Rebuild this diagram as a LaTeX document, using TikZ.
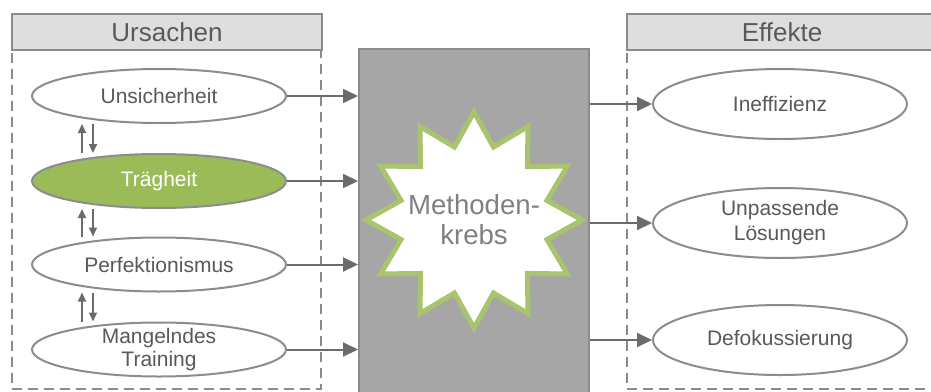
\documentclass[tikz,border=0pt]{standalone}
\usepackage{fontspec}
\setmainfont{Liberation Sans}
\usepackage{xcolor}
\usepackage{tikz}
\usetikzlibrary{positioning, arrows.meta, shapes.geometric}

\definecolor{txtgray}{HTML}{595959}
\definecolor{linegray}{HTML}{8C8C8C}
\definecolor{arrgray}{HTML}{6B6B6B}
\definecolor{headgray}{HTML}{DEDEDE}
\definecolor{boxgray}{HTML}{A6A6A6}
\definecolor{hotgreen}{HTML}{9BBB59}
\definecolor{burstgreen}{HTML}{A8C46E}

\begin{document}
\begin{tikzpicture}[
    x=0.5pt, y=-0.5pt,
    font=\fontsize{10.5}{12}\selectfont,
    cause/.style={
        ellipse, draw=linegray, line width=1pt, fill=white,
        minimum width=127pt, minimum height=27pt, inner sep=0pt,
    },
    effect/.style={cause, minimum height=35pt},
    hot/.style={cause, fill=hotgreen},
    ctext/.style={text=txtgray, align=center, inner sep=0pt},
    htext/.style={ctext, text=white},
    head/.style={
        draw=linegray, fill=headgray, line width=1pt,
        minimum width=155pt, minimum height=18pt, inner sep=0pt,
        text=txtgray, font=\fontsize{13}{15}\selectfont,
    },
    panel/.style={
        draw=linegray, line width=1pt, dash pattern=on 5pt off 3pt,
        minimum width=154.5pt, minimum height=169.5pt, inner sep=0pt,
    },
    core/.style={
        draw=linegray, fill=boxgray, line width=1pt,
        minimum width=115pt, minimum height=172pt, inner sep=0pt,
    },
    burst/.style={
        star, star points=12, star point ratio=1.43,
        draw=burstgreen, line width=2.5pt, fill=white,
        minimum size=108pt, inner sep=0pt,
    },
    arrow/.style={-{Triangle[length=7.5pt, width=7pt]}, draw=arrgray, line width=1pt},
    swap/.style={-{Triangle[length=4.5pt, width=4pt]}, draw=arrgray, line width=1pt},
]
\clip (0,0) rectangle (931,391);

% ── Dashed columns with their title bars ─────────────────────────────
\node[panel] (lpanel) at (166.5, 219.5) {};
\node[panel] (rpanel) at (781.5, 219.5) {};
\node[head] (lhead) at (167, 32) {Ursachen};
\node[head] (rhead) at (782, 32) {Effekte};

% ── Centre block ─────────────────────────────────────────────────────
\node[core] (core) at (474, 221) {};
\node[burst] (burst) at (474, 220) {};
\node[ctext, text=gray, font=\fontsize{13.8}{15}\selectfont] (krebs) at (burst.center)
    {Methoden-\\krebs};

% ── Causes ───────────────────────────────────────────────────────────
\node[cause, label={[ctext]center:Unsicherheit}] (unsich) at (159, 96) {};
\node[hot, label={[htext]center:Trägheit}] (trag) at (159, 181) {};
\node[cause, label={[ctext]center:Perfektionismus}] (perf) at (159, 264.5) {};
\node[cause, label={[ctext, font=\fontsize{10.5}{11.5}\selectfont]center:Mangelndes\\Training}] (mangel) at (159, 349.5) {};

% ── Effects ──────────────────────────────────────────────────────────
\node[effect, label={[ctext]center:Ineffizienz}] (ineff) at (780, 104) {};
\node[effect, label={[ctext, font=\fontsize{10.5}{12.5}\selectfont]center:Unpassende\\Lösungen}] (unpass) at (780, 223) {};
\node[effect, label={[ctext]center:Defokussierung}] (defok) at (780, 340) {};

% ── Edges ────────────────────────────────────────────────────────────
% causes feed the block
\foreach \c in {unsich, trag, perf, mangel}
    \draw[arrow] (\c.east) -- (\c.east -| core.west);

% block feeds the effects
\foreach \e in {ineff, unpass, defok}
    \draw[arrow] (core.east |- \e.west) -- (\e.west);

% causes reinforce each other
\foreach \a/\b in {unsich/trag, trag/perf, perf/mangel} {
    \draw[swap] ([xshift=-38.5pt]\b.north) -- ([xshift=-38.5pt]\a.south);
    \draw[swap] ([xshift=-33pt]\a.south) -- ([xshift=-33pt]\b.north);
}

\end{tikzpicture}
\end{document}
